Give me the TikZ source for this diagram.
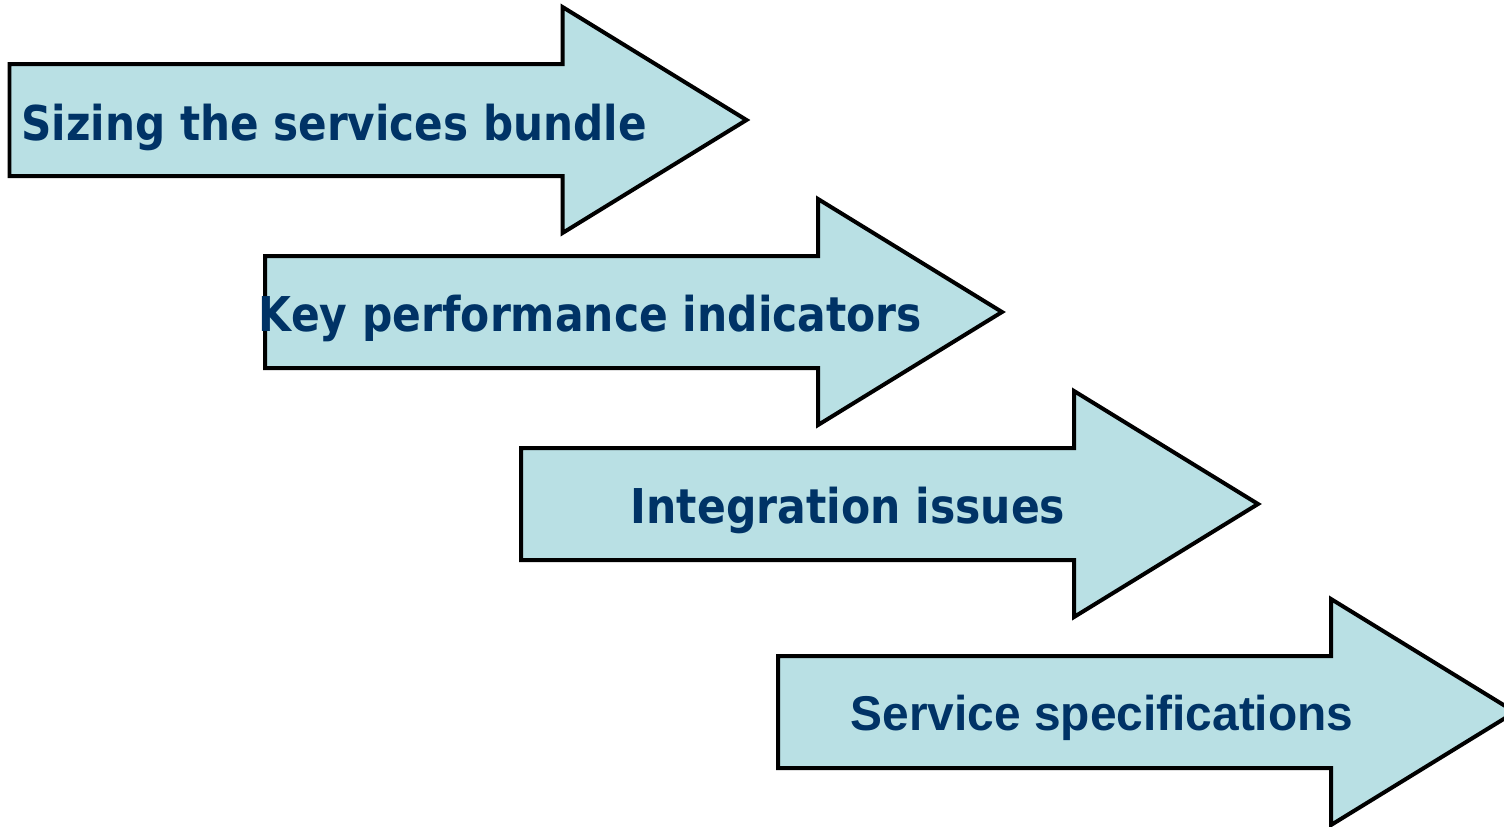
\documentclass[tikz,border=0pt]{standalone}
\usepackage{fontspec}
\setsansfont{DejaVu Sans}
\newfontfamily\arialfont{Liberation Sans}
\usepackage{tikz}

\definecolor{arrowfill}{RGB}{185,224,228}
\definecolor{labelblue}{RGB}{0,51,102}

\begin{document}
\begin{tikzpicture}[x=0.02cm,y=-0.02cm]
		\tikzstyle{arrow box}=[draw=black, line width=4*0.569pt, fill=arrowfill, line join=miter]
		\tikzstyle{label}=[inner sep=0pt, anchor=base, text=labelblue, font=\sffamily\bfseries\fontsize{27.3}{32}\selectfont]
		\tikzset{phase/.pic={
			\path[arrow box] (0,-56) -- (553,-56) -- (553,-113) -- (737,0)
				-- (553,113) -- (553,56) -- (0,56) -- cycle;
		}}

		\useasboundingbox (0,0) rectangle (1504,826);

		\pic (p1) at (9.5,120) {phase};
		\pic (p2) at (265,312) {phase};
		\pic (p3) at (521,504) {phase};
		\pic (p4) at (778,712) {phase};

		\node [label] (sizing) at (334,140) {\scalebox{0.879}[1]{Sizing the services bundle}};
		\node [label] (kpi) at (590.5,331) {\scalebox{0.885}[1]{Key performance indicators}};
		\node [label] (integration) at (848,523) {\scalebox{0.887}[1]{Integration issues}};
		\node [label, font=\arialfont\bfseries\fontsize{27.8}{32}\selectfont] (spec) at (1102,730) {\scalebox{0.98}[1]{Service specifications}};
	\end{tikzpicture}
\end{document}
